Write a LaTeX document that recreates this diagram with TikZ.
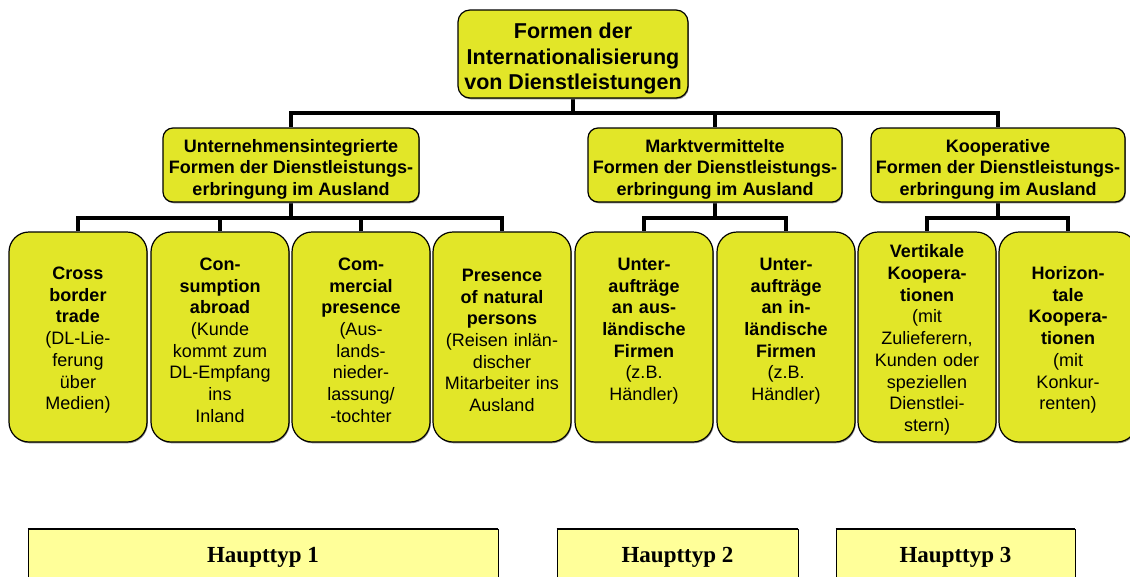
\documentclass[tikz,border=0pt]{standalone}
\usepackage{fontspec}
\setmainfont{Liberation Sans}
\newfontfamily\timesfont{Liberation Serif}
\usetikzlibrary{shadows,backgrounds}
\definecolor{boxyellow}{RGB}{226,230,40}
\definecolor{paleyellow}{RGB}{255,255,153}
\newcommand{\lift}[1]{\rule{0pt}{#1}}
\begin{document}
\begin{tikzpicture}[x=1pt,y=-1pt,
  base/.style={draw=black, line width=1.2pt, fill=boxyellow, align=center, inner sep=0pt,
    drop shadow={shadow xshift=0.8pt, shadow yshift=-1.3pt, fill=black!45, opacity=1}},
  topbox/.style={base, rounded corners=12pt, minimum width=230pt, minimum height=88pt,
    font=\fontsize{21.5}{25.5}\selectfont\bfseries},
  groupbox/.style={base, rounded corners=10pt, minimum height=74pt,
    font=\fontsize{18}{21.5}\selectfont\bfseries},
  formbox/.style={base, rounded corners=20pt, minimum width=138pt, minimum height=210pt,
    text width=136pt, font=\fontsize{18}{21.7}\selectfont},
  typebox/.style={draw=black, line width=0.8pt, fill=paleyellow, minimum height=56pt,
    inner sep=0pt, font=\timesfont\bfseries\fontsize{23}{26}\selectfont},
  conn/.style={line width=4pt}
]
\clip (0,0) rectangle (1130,576);

% top node
\node[topbox] (root) at (573,54) {\lift{25pt}Formen der\\Internationalisierung\\von Dienstleistungen};

% group nodes
\node[groupbox, minimum width=256pt] (g1) at (291,165) {\lift{21pt}Unternehmensintegrierte\\Formen der Dienstleistungs-\\erbringung im Ausland};
\node[groupbox, minimum width=254pt] (g2) at (715,165) {\lift{21pt}Marktvermittelte\\Formen der Dienstleistungs-\\erbringung im Ausland};
\node[groupbox, minimum width=254pt] (g3) at (998,165) {\lift{21pt}Kooperative\\Formen der Dienstleistungs-\\erbringung im Ausland};

% form nodes
\node[formbox] (f1) at (78,337) {\lift{19pt}\bfseries Cross\\border\\trade\\\mdseries (DL-Lie-\\ferung\\über\\Medien)};
\node[formbox] (f2) at (220,337) {\lift{19pt}\bfseries Con-\\sumption\\abroad\\\mdseries (Kunde\\kommt zum\\DL-Empfang\\ins\\Inland};
\node[formbox] (f3) at (361,337) {\lift{19pt}\bfseries Com-\\mercial\\presence\\\mdseries (Aus-\\lands-\\nieder-\\lassung/\\-tochter};
\node[formbox] (f4) at (502,337) {\lift{19pt}\bfseries Presence\\of natural\\persons\\\mdseries (Reisen inlän-\\discher\\Mitarbeiter ins\\Ausland};
\node[formbox] (f5) at (644,337) {\lift{25pt}\bfseries Unter-\\aufträge\\an aus-\\ländische\\Firmen\\\mdseries (z.B.\\Händler)\\\strut};
\node[formbox] (f6) at (786,337) {\lift{25pt}\bfseries Unter-\\aufträge\\an in-\\ländische\\Firmen\\\mdseries (z.B.\\Händler)\\\strut};
\node[formbox] (f7) at (927,337) {\lift{19pt}\bfseries Vertikale\\Koopera-\\tionen\\\mdseries (mit\\Zulieferern,\\Kunden oder\\speziellen\\Dienstlei-\\stern)};
\node[formbox] (f8) at (1068,337) {\lift{19pt}\bfseries Horizon-\\tale\\Koopera-\\tionen\\\mdseries (mit\\Konkur-\\renten)};

% main type boxes
\node[typebox, minimum width=470pt] (t1) at (263,557) {Haupttyp 1};
\node[typebox, minimum width=241pt] (t2) at (677.5,557) {Haupttyp 2};
\node[typebox, minimum width=239pt] (t3) at (955.5,557) {Haupttyp 3};
\draw[line width=2pt] (t1.north west) -- (t1.north east);
\draw[line width=2pt] (t2.north west) -- (t2.north east);
\draw[line width=2pt] (t3.north west) -- (t3.north east);

% connectors
\coordinate (bus0) at (0,113);
\coordinate (bus1) at (0,218);
\begin{scope}[on background layer]
\fill[white] (0,0) rectangle (1130,576);
\draw[conn] (root.south) -- (root.south |- bus0) -| (g1.north);
\draw[conn] (root.south) -- (root.south |- bus0) -| (g2.north);
\draw[conn] (root.south) -- (root.south |- bus0) -| (g3.north);
\foreach \c in {f1,f2,f3,f4}{\draw[conn] (g1.south) -- (g1.south |- bus1) -| (\c.north);}
\foreach \c in {f5,f6}{\draw[conn] (g2.south) -- (g2.south |- bus1) -| (\c.north);}
\foreach \c in {f7,f8}{\draw[conn] (g3.south) -- (g3.south |- bus1) -| (\c.north);}
\end{scope}
\end{tikzpicture}
\end{document}
